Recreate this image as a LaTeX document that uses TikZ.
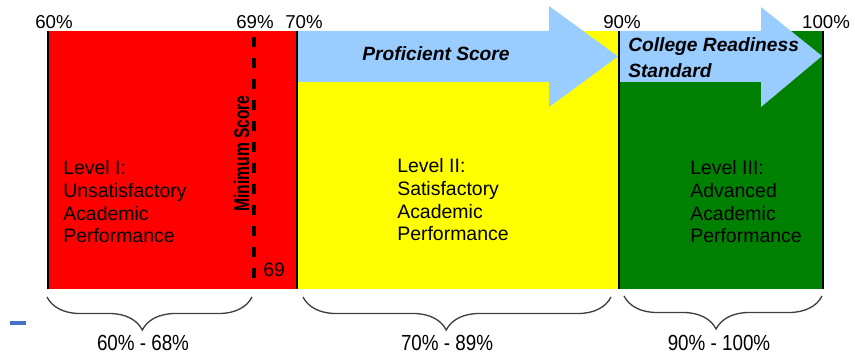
\documentclass[tikz,border=0pt]{standalone}
\usepackage{fontspec}
\setmainfont{Liberation Sans}
\usetikzlibrary{decorations.pathreplacing}
\definecolor{cRed}{HTML}{FF0000}
\definecolor{cYel}{HTML}{FFFF00}
\definecolor{cGrn}{HTML}{008000}
\definecolor{cBlu}{HTML}{99CCFF}
\definecolor{cBrace}{HTML}{404040}
\definecolor{cDash}{HTML}{4472C4}
\begin{document}
\begin{tikzpicture}[x=0.75pt,y=-0.75pt,
  pct/.style={font=\fontsize{14}{16}\selectfont, inner sep=0pt},
  lvl/.style={font=\fontsize{14.6}{17}\selectfont, align=left, anchor=west, inner sep=0pt},
  bar/.style={line width=1.9pt, black},
  brc/.style={decorate, decoration={brace, mirror, amplitude=24.75pt, aspect=0.465}, line width=1pt, cBrace},
  arr/.style={fill=cBlu, draw=none},
  arrtext/.style={font=\fontsize{14.4}{18}\selectfont\bfseries\itshape, inner sep=0pt},
  rng/.style={font=\fontsize{16.4}{18}\selectfont, inner sep=0pt},
]
\useasboundingbox (0,0) rectangle (855,356);
\fill[white] (0,0) rectangle (855,356);
% bands
\fill[cRed] (48,31) rectangle (297,289);
\fill[cYel] (297,31) rectangle (619,289);
\fill[cGrn] (619,31) rectangle (823,289);
% arrows
\fill[arr] (297,31) -- (549,31) -- (549,6) -- (618,56.5) -- (549,107) -- (549,82) -- (297,82) -- cycle;
\fill[arr] (619,31) -- (761,31) -- (761,7) -- (822,56) -- (761,107) -- (761,82) -- (619,82) -- cycle;
% dashed minimum line
\coordinate (dtop) at (254,37);
\coordinate (dbot) at (254,280);
\draw[line width=2.6pt, dash pattern=on 7.5pt off 8.25pt] (dtop) -- (dbot);
% boundary lines
\coordinate (b1t) at (48,31);  \coordinate (b1b) at (48,289);
\coordinate (b2t) at (297,31); \coordinate (b2b) at (297,289);
\coordinate (b3t) at (619,31); \coordinate (b3b) at (619,289);
\coordinate (b4t) at (823,31); \coordinate (b4b) at (823,289);
\draw[bar] (b1t) -- (b1b);
\draw[bar] (b2t) -- (b2b);
\draw[bar] (b3t) -- (b3b);
\draw[bar] (b4t) -- (b4b);
% top labels
\node[pct] (p60) at (54,22) {60\%};
\node[pct] (p69) at (255,22) {69\%};
\node[pct] (p70) at (304,22) {70\%};
\node[pct] (p90) at (622,22) {90\%};
\node[pct] (p100) at (826,22) {100\%};
% arrow texts
\node[arrtext] (prof) at (436,54) {Proficient Score};
\node[arrtext, align=left, anchor=west] (coll) at (628,58) {College Readiness\\[1.3pt]Standard};
% minimum score
\node[font=\fontsize{16}{18}\selectfont\bfseries, rotate=90, inner sep=0pt] (mins) at (241.5,153.5) {\scalebox{0.73}[1]{Minimum Score}};
\node[font=\fontsize{14.5}{16}\selectfont, inner sep=0pt] (n69) at (274,270) {69};
% level texts
\node[lvl] (lv1) at (63,202) {Level I:\\Unsatisfactory\\Academic\\Performance};
\node[lvl] (lv2) at (397,200) {Level II:\\Satisfactory\\Academic\\Performance};
\node[lvl] (lv3) at (690,202) {Level III:\\Advanced\\Academic\\Performance};
% braces
\coordinate (r1a) at (47,297);  \coordinate (r1b) at (252,297);
\coordinate (r2a) at (303,297); \coordinate (r2b) at (611,297);
\coordinate (r3a) at (624,296); \coordinate (r3b) at (822,296);
\draw[brc] (r1a) -- (r1b);
\draw[brc] (r2a) -- (r2b);
\draw[brc] (r3a) -- (r3b);
\node[rng] (g1) at (143,343) {\scalebox{0.86}[1]{60\% - 68\%}};
\node[rng] (g2) at (447,343) {\scalebox{0.86}[1]{70\% - 89\%}};
\node[rng] (g3) at (719,343) {\scalebox{0.86}[1]{90\% - 100\%}};
% small blue dash
\coordinate (bd1) at (10,323);
\coordinate (bd2) at (26,323);
\draw[cDash, line width=2.4pt] (bd1) -- (bd2);
\end{tikzpicture}
\end{document}
